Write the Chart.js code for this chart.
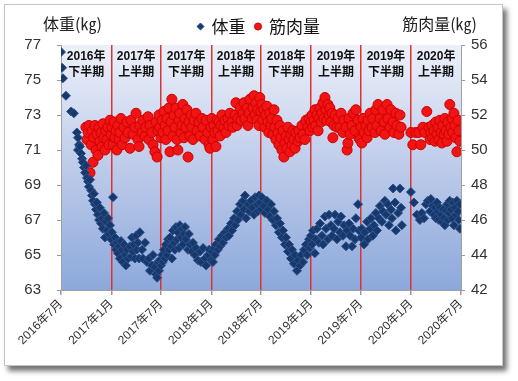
<!DOCTYPE html>
<html><head><meta charset="utf-8">
<script src="https://cdn.jsdelivr.net/npm/chart.js@4/dist/chart.umd.min.js"></script>
<style>
html,body{margin:0;padding:0;background:#fff;width:518px;height:381px;overflow:hidden;}
#frame{position:absolute;left:4px;top:4px;width:497px;height:360px;border:1px solid #c4c4c4;box-shadow:4px 5px 5px rgba(0,0,0,0.55);background:#fff;}
#wrap{position:absolute;left:0;top:0;width:518px;height:381px;}
</style></head><body>
<div id="frame"></div>
<div id="wrap"><canvas id="c" width="518" height="381"></canvas></div>
<script>
// ---- data (x = days since 2016-07-01) ----
const tickLabels = ['2016年7月','2017年1月','2017年7月','2018年1月','2018年7月','2019年1月','2019年7月','2020年1月','2020年7月'];
const periodYears = ['2016年','2017年','2017年','2018年','2018年','2019年','2019年','2020年'];
const periodHalves = ['下半期','上半期','下半期','上半期','下半期','上半期','下半期','上半期'];
const seriesNames = ['体重','筋肉量'];
const weightTicks = [63,65,67,69,71,73,75,77];
const muscleTicks = [42,44,46,48,50,52,54,56];

const weightPoints = [
[0,76.6],[4,75.7],[7,75.1],[18,74.1],[37,73.2],[47,73.1],[58,72.0],[62,71.7],[66,71.3],[62,71.0],[69,71.2],[73,70.8],[77,70.5],[80,70.3],[84,70.0],[88,69.7],[91,70.1],[95,69.4],[99,69.2],[102,68.9],[106,69.3],[110,68.7],[113,68.4],[117,68.1],[120,68.5],[124,67.9],[128,67.6],[131,68.0],[135,67.3],[139,67.0],[142,67.7],[146,66.8],[150,67.1],[153,66.5],[157,67.4],[161,66.0],[164,66.9],[168,66.4],[172,67.1],[175,66.2],[179,66.7],[183,65.9],
[186,66.3],[190,68.3],[194,65.6],[197,66.0],[201,65.3],[204,65.7],[208,65.1],[212,65.5],[215,64.8],[219,65.8],[223,65.3],[226,64.6],[230,65.6],[234,65.0],[237,64.4],[241,65.3],[245,64.8],[252,65.5],[256,64.9],[259,66.0],[263,65.2],[266,65.6],[270,64.8],[274,66.1],[277,65.3],[281,65.7],[285,64.8],[288,66.3],[296,65.3],[299,64.8],[307,65.7],[314,64.6],[321,64.8],[325,64.1],[332,64.4],[336,65.0],[343,64.3],[347,63.9],[351,63.7],[354,64.6],[358,64.1],
[361,64.7],[365,64.4],[369,65.0],[372,64.6],[376,65.3],[380,64.8],[383,65.6],[387,65.0],[391,65.9],[394,65.3],[398,66.0],[402,65.5],[405,64.8],[409,66.4],[413,65.7],[416,65.3],[420,66.6],[424,65.9],[427,66.3],[431,65.4],[434,66.7],[438,66.0],[442,66.5],[445,65.6],[449,66.2],[453,66.6],[456,65.9],[464,65.3],[467,66.2],[471,65.6],[478,65.2],[482,65.7],[489,65.0],[493,65.4],[500,64.7],[508,65.2],[511,64.6],[519,65.4],[526,64.8],[530,64.4],[537,65.0],[541,65.3],
[548,64.7],[551,65.2],[555,64.6],[559,65.4],[562,65.0],[566,65.6],[573,65.3],[577,65.9],[581,65.5],[588,66.1],[592,65.7],[599,66.3],[603,66.0],[610,66.5],[613,66.1],[621,66.8],[625,66.4],[632,67.1],[636,66.7],[643,67.5],[646,67.0],[654,67.9],[657,67.3],[665,68.1],[668,67.6],[672,68.4],[676,67.1],[683,67.9],[687,67.5],[694,68.1],[698,67.7],[705,67.3],[709,68.3],[716,67.9],[719,67.5],[723,68.4],
[726,68.0],[730,67.6],[734,68.3],[741,67.8],[745,67.4],[752,68.1],[756,67.6],[763,67.2],[767,67.9],[774,67.0],[778,67.5],[785,66.7],[789,67.1],[796,66.3],[800,66.8],[807,66.0],[811,66.4],[818,65.6],[822,66.0],[829,65.2],[833,65.6],[840,64.8],[844,65.3],[851,64.5],[855,65.0],[862,64.1],[866,64.7],[873,64.4],[877,65.0],[884,64.6],[888,65.3],[895,65.6],[899,65.0],[906,65.9],
[909,65.4],[913,66.1],[917,65.6],[920,66.4],[927,65.1],[931,65.9],[935,66.5],[942,65.7],[946,66.8],[953,66.1],[957,65.6],[964,67.2],[968,66.5],[975,65.9],[979,67.3],[986,66.7],[990,66.1],[997,66.5],[1001,67.3],[1008,65.9],[1012,66.9],[1019,66.3],[1023,67.2],[1030,66.1],[1034,66.7],[1041,65.5],[1045,66.4],[1052,66.8],[1056,66.1],[1063,65.5],[1067,66.5],[1074,65.9],[1077,67.1],[1085,67.9],[1088,66.4],
[1096,66.0],[1099,66.5],[1107,65.6],[1110,66.3],[1118,66.9],[1121,65.9],[1129,66.5],[1132,67.1],[1139,66.1],[1143,66.7],[1150,67.4],[1154,66.4],[1161,67.1],[1165,67.8],[1172,66.9],[1176,67.5],[1183,68.1],[1187,67.3],[1194,67.9],[1198,66.7],[1205,67.6],[1209,67.1],[1213,68.8],[1220,68.0],[1223,66.4],[1231,67.4],[1238,68.8],[1242,67.7],[1245,66.7],
[1278,68.6],[1289,68.0],[1300,67.3],[1311,67.0],[1318,67.4],[1326,67.1],[1333,67.9],[1340,68.1],[1348,67.5],[1351,68.2],[1358,67.8],[1362,67.3],[1366,67.7],[1369,67.1],[1373,68.0],[1377,67.5],[1380,67.0],[1384,67.7],[1388,67.3],[1391,66.9],[1395,67.6],[1399,67.1],[1402,66.7],[1406,67.5],[1410,67.9],[1413,67.0],[1417,67.4],[1420,68.1],[1424,67.6],[1428,67.1],[1431,68.0],[1435,66.7],[1439,67.7],[1442,67.3],[1446,68.1],[1450,67.5],[1453,67.0],[1457,66.5],[1457,67.9]
];

const musclePoints = [
[91,51.3],[95,50.6],[99,51.0],[102,51.4],[106,48.7],[110,50.3],[113,51.1],[117,49.3],[120,50.7],[124,51.4],[128,50.0],[131,50.9],[135,49.7],[139,51.3],[142,50.5],[146,51.0],[150,50.2],[153,51.5],[157,50.7],[161,50.0],[164,51.1],[168,50.6],[172,51.3],[175,50.3],[179,51.7],
[183,50.9],[186,51.3],[190,50.3],[194,51.6],[197,50.7],[201,51.1],[204,50.0],[208,51.4],[212,50.6],[215,51.0],[219,51.8],[223,50.3],[230,51.3],[234,50.7],[241,51.6],[245,51.0],[252,50.1],[256,51.7],[263,50.9],[270,51.3],[274,52.1],[281,50.6],[285,50.2],[288,51.4],[296,51.0],[299,51.7],[307,50.8],[310,51.3],[318,51.9],[321,50.6],[325,51.4],[332,51.0],[336,50.3],[343,49.9],[347,51.6],[351,49.6],[354,51.1],[358,52.0],
[361,51.3],[365,50.7],[369,51.7],[372,51.0],[376,52.2],[380,51.4],[383,50.6],[387,51.8],[391,51.1],[394,52.4],[398,49.9],[402,51.6],[405,52.9],[409,50.8],[413,52.0],[416,51.3],[420,52.4],[424,50.6],[427,50.0],[431,51.7],[434,52.1],[438,51.0],[442,51.4],[445,52.6],[449,50.7],[453,51.8],[456,51.3],[460,52.3],[464,49.6],[467,51.6],[471,50.8],[475,52.0],[478,51.3],[482,50.6],[486,51.7],[493,52.1],[497,51.1],[504,51.6],[508,50.8],[515,51.8],[519,51.3],[526,50.6],[530,51.7],[537,51.0],[541,50.3],[544,50.1],
[548,51.3],[551,51.8],[555,50.6],[559,51.4],[562,51.0],[566,50.2],[570,51.7],[573,51.1],[577,51.6],[581,50.8],[584,51.4],[588,52.0],[595,51.3],[599,51.7],[603,51.0],[610,51.8],[613,51.4],[617,52.1],[625,51.6],[628,51.3],[636,52.0],[639,52.7],[643,51.4],[646,51.8],[654,52.4],[657,51.7],[665,52.1],[668,52.7],[672,51.8],[679,52.4],[683,51.4],[687,52.1],[690,52.9],[698,51.8],[701,52.4],[705,53.1],[709,52.0],[712,52.7],[716,51.7],[719,52.3],[723,51.4],
[726,53.0],[730,52.2],[734,52.6],[737,51.7],[741,52.3],[745,51.3],[748,52.0],[752,52.5],[756,51.6],[759,51.0],[763,52.1],[767,51.4],[770,51.8],[774,50.9],[778,52.3],[781,51.3],[785,50.6],[789,51.7],[792,51.0],[796,50.3],[800,51.4],[803,50.7],[807,50.0],[811,51.1],[814,49.6],[818,50.4],[822,50.8],[825,50.1],[829,51.3],[833,50.6],[836,49.9],[840,50.9],[844,50.3],[847,51.1],[851,50.6],[855,50.1],[858,51.0],[866,50.5],[869,51.1],[873,50.7],[880,51.4],[884,50.9],[891,50.6],[895,51.7],[902,51.3],[906,51.8],
[909,51.1],[913,51.6],[917,52.0],[920,51.3],[924,51.7],[928,52.3],[931,51.4],[935,52.0],[939,51.1],[942,51.8],[946,52.4],[950,51.6],[953,52.1],[957,52.7],[960,51.8],[964,53.0],[968,52.3],[971,51.7],[975,52.6],[979,52.0],[982,52.4],[986,51.6],[990,52.1],[993,50.7],[997,51.4],[1001,52.0],[1008,51.3],[1012,51.8],[1019,51.3],[1023,52.1],[1030,51.0],[1034,51.7],[1041,51.3],[1045,50.0],[1048,50.4],[1052,51.8],[1056,50.9],[1063,51.4],[1067,52.1],[1074,51.1],[1077,52.3],[1085,51.7],[1088,50.7],
[1092,50.6],[1096,51.3],[1099,50.4],[1103,51.8],[1107,51.0],[1114,51.4],[1118,50.7],[1121,51.7],[1125,51.1],[1129,52.1],[1136,51.3],[1139,51.8],[1147,51.0],[1150,52.3],[1154,51.4],[1158,52.6],[1165,51.8],[1169,51.1],[1176,52.3],[1180,51.6],[1183,50.9],[1191,52.6],[1194,51.8],[1202,51.3],[1205,52.3],[1213,51.6],[1216,51.0],[1223,52.1],[1227,51.4],[1234,50.9],[1238,52.0],[1242,51.3],
[1278,51.0],[1285,50.3],[1296,51.0],[1307,51.0],[1314,50.3],[1322,51.3],[1329,51.0],[1336,52.2],[1344,51.3],[1348,50.6],[1351,51.0],[1355,51.4],[1358,50.7],[1362,51.1],[1366,50.5],[1369,51.6],[1373,50.9],[1377,51.3],[1380,50.6],[1384,51.7],[1388,51.0],[1391,50.4],[1395,51.4],[1399,50.9],[1402,51.8],[1406,51.1],[1410,50.5],[1413,51.6],[1417,50.9],[1420,52.6],[1424,51.3],[1428,51.8],[1431,51.0],[1435,52.1],[1439,51.4],[1442,50.7],[1446,49.9],[1450,51.7],[1453,51.1],[1457,50.5]
];

// ---- derived ----
const origin = Date.UTC(2016, 6, 1);
const tickDays = tickLabels.map(s => { const m = s.match(/(\d+)年(\d+)月/); return Math.round((Date.UTC(+m[1], +m[2] - 1, 1) - origin) / 86400000); });

const FONT = "'Liberation Sans','Noto Sans CJK JP',sans-serif";
Chart.defaults.font.family = FONT;

const bgPlugin = {
  id: 'bg',
  beforeDraw(chart) {
    const a = chart.chartArea, ctx = chart.ctx;
    const g = ctx.createLinearGradient(0, a.top, 0, a.bottom);
    g.addColorStop(0, '#ecf0f9');
    g.addColorStop(0.5, '#bdcbea');
    g.addColorStop(1, '#8ca8db');
    ctx.save(); ctx.fillStyle = g; ctx.fillRect(a.left, a.top, a.right - a.left, a.bottom - a.top); ctx.restore();
  }
};
const textPlugin = {
  id: 'texts',
  afterDatasetsDraw(chart) {
    const ctx = chart.ctx, xs = chart.scales.x;
    ctx.save();
    ctx.fillStyle = '#111';
    ctx.textAlign = 'center'; ctx.textBaseline = 'middle';
    for (let i = 0; i < periodYears.length; i++) {
      const cx = (xs.getPixelForValue(tickDays[i]) + xs.getPixelForValue(tickDays[i + 1])) / 2;
      ctx.font = "bold 12px 'Liberation Sans','Noto Sans CJK JP',sans-serif";
      ctx.fillText(periodYears[i], cx, 57);
      ctx.font = "bold 12px 'Noto Sans CJK JP',sans-serif";
      ctx.fillText(periodHalves[i], cx, 71);
    }
    ctx.font = "16px 'Noto Sans CJK JP',sans-serif";
    ctx.fillStyle = '#222';
    ctx.textAlign = 'left';
    ctx.fillText(seriesNames[0] + '(㎏)', 43, 24);
    ctx.textAlign = 'right';
    ctx.fillText(seriesNames[1] + '(㎏)', 477, 24);
    ctx.restore();
  }
};

new Chart(document.getElementById('c'), {
  type: 'scatter',
  data: {
    datasets: [
      { label: seriesNames[0], data: weightPoints.map(p => ({ x: p[0], y: p[1] })), yAxisID: 'y',
        pointStyle: 'rectRot', pointRadius: 4.5, backgroundColor: '#17386b', borderColor: '#2d528e', borderWidth: 1 },
      { label: seriesNames[1], data: musclePoints.map(p => ({ x: p[0], y: p[1] })), yAxisID: 'y2',
        pointStyle: 'circle', pointRadius: 5, backgroundColor: '#f01414', borderColor: '#d00000', borderWidth: 1 }
    ]
  },
  options: {
    responsive: false, animation: false, devicePixelRatio: 1,
    layout: { padding: { top: 8, left: 0, right: 0, bottom: 0 } },
    plugins: {
      legend: { display: true, position: 'top',
        labels: { usePointStyle: true, boxWidth: 5, boxHeight: 5, padding: 10, color: '#111', font: { size: 17, family: "'Noto Sans CJK JP',sans-serif" } } },
      tooltip: { enabled: false }
    },
    scales: {
      x: { type: 'linear', min: tickDays[0], max: tickDays[tickDays.length - 1],
        afterBuildTicks: s => { s.ticks = tickDays.map(v => ({ value: v })); },
        ticks: { autoSkip: false, minRotation: 45, maxRotation: 45, padding: 2, color: '#333', font: { size: 12 },
          callback: v => tickLabels[tickDays.indexOf(v)] },
        grid: { color: c => (c.index === 0 || c.index === tickDays.length - 1) ? 'rgba(0,0,0,0)' : '#dc3434',
          lineWidth: 1.5, tickColor: '#999', tickLength: 5 },
        border: { color: '#a0a0a0' },
        afterFit: s => { s.height = 91; } },
      y: { position: 'left', min: 63, max: 77,
        afterBuildTicks: s => { s.ticks = weightTicks.map(v => ({ value: v })); },
        ticks: { padding: 16, color: '#333', font: { size: 15 } },
        grid: { drawOnChartArea: false, tickLength: 4, color: '#999' },
        border: { color: '#a0a0a0' },
        afterFit: s => { s.width = 61; } },
      y2: { position: 'right', min: 42, max: 56,
        afterBuildTicks: s => { s.ticks = muscleTicks.map(v => ({ value: v })); },
        ticks: { padding: 6, color: '#333', font: { size: 15 } },
        grid: { drawOnChartArea: false, tickLength: 4, color: '#999' },
        border: { color: '#a0a0a0' },
        afterFit: s => { s.width = 57; } }
    }
  },
  plugins: [bgPlugin, textPlugin]
});
</script>
</body></html>
